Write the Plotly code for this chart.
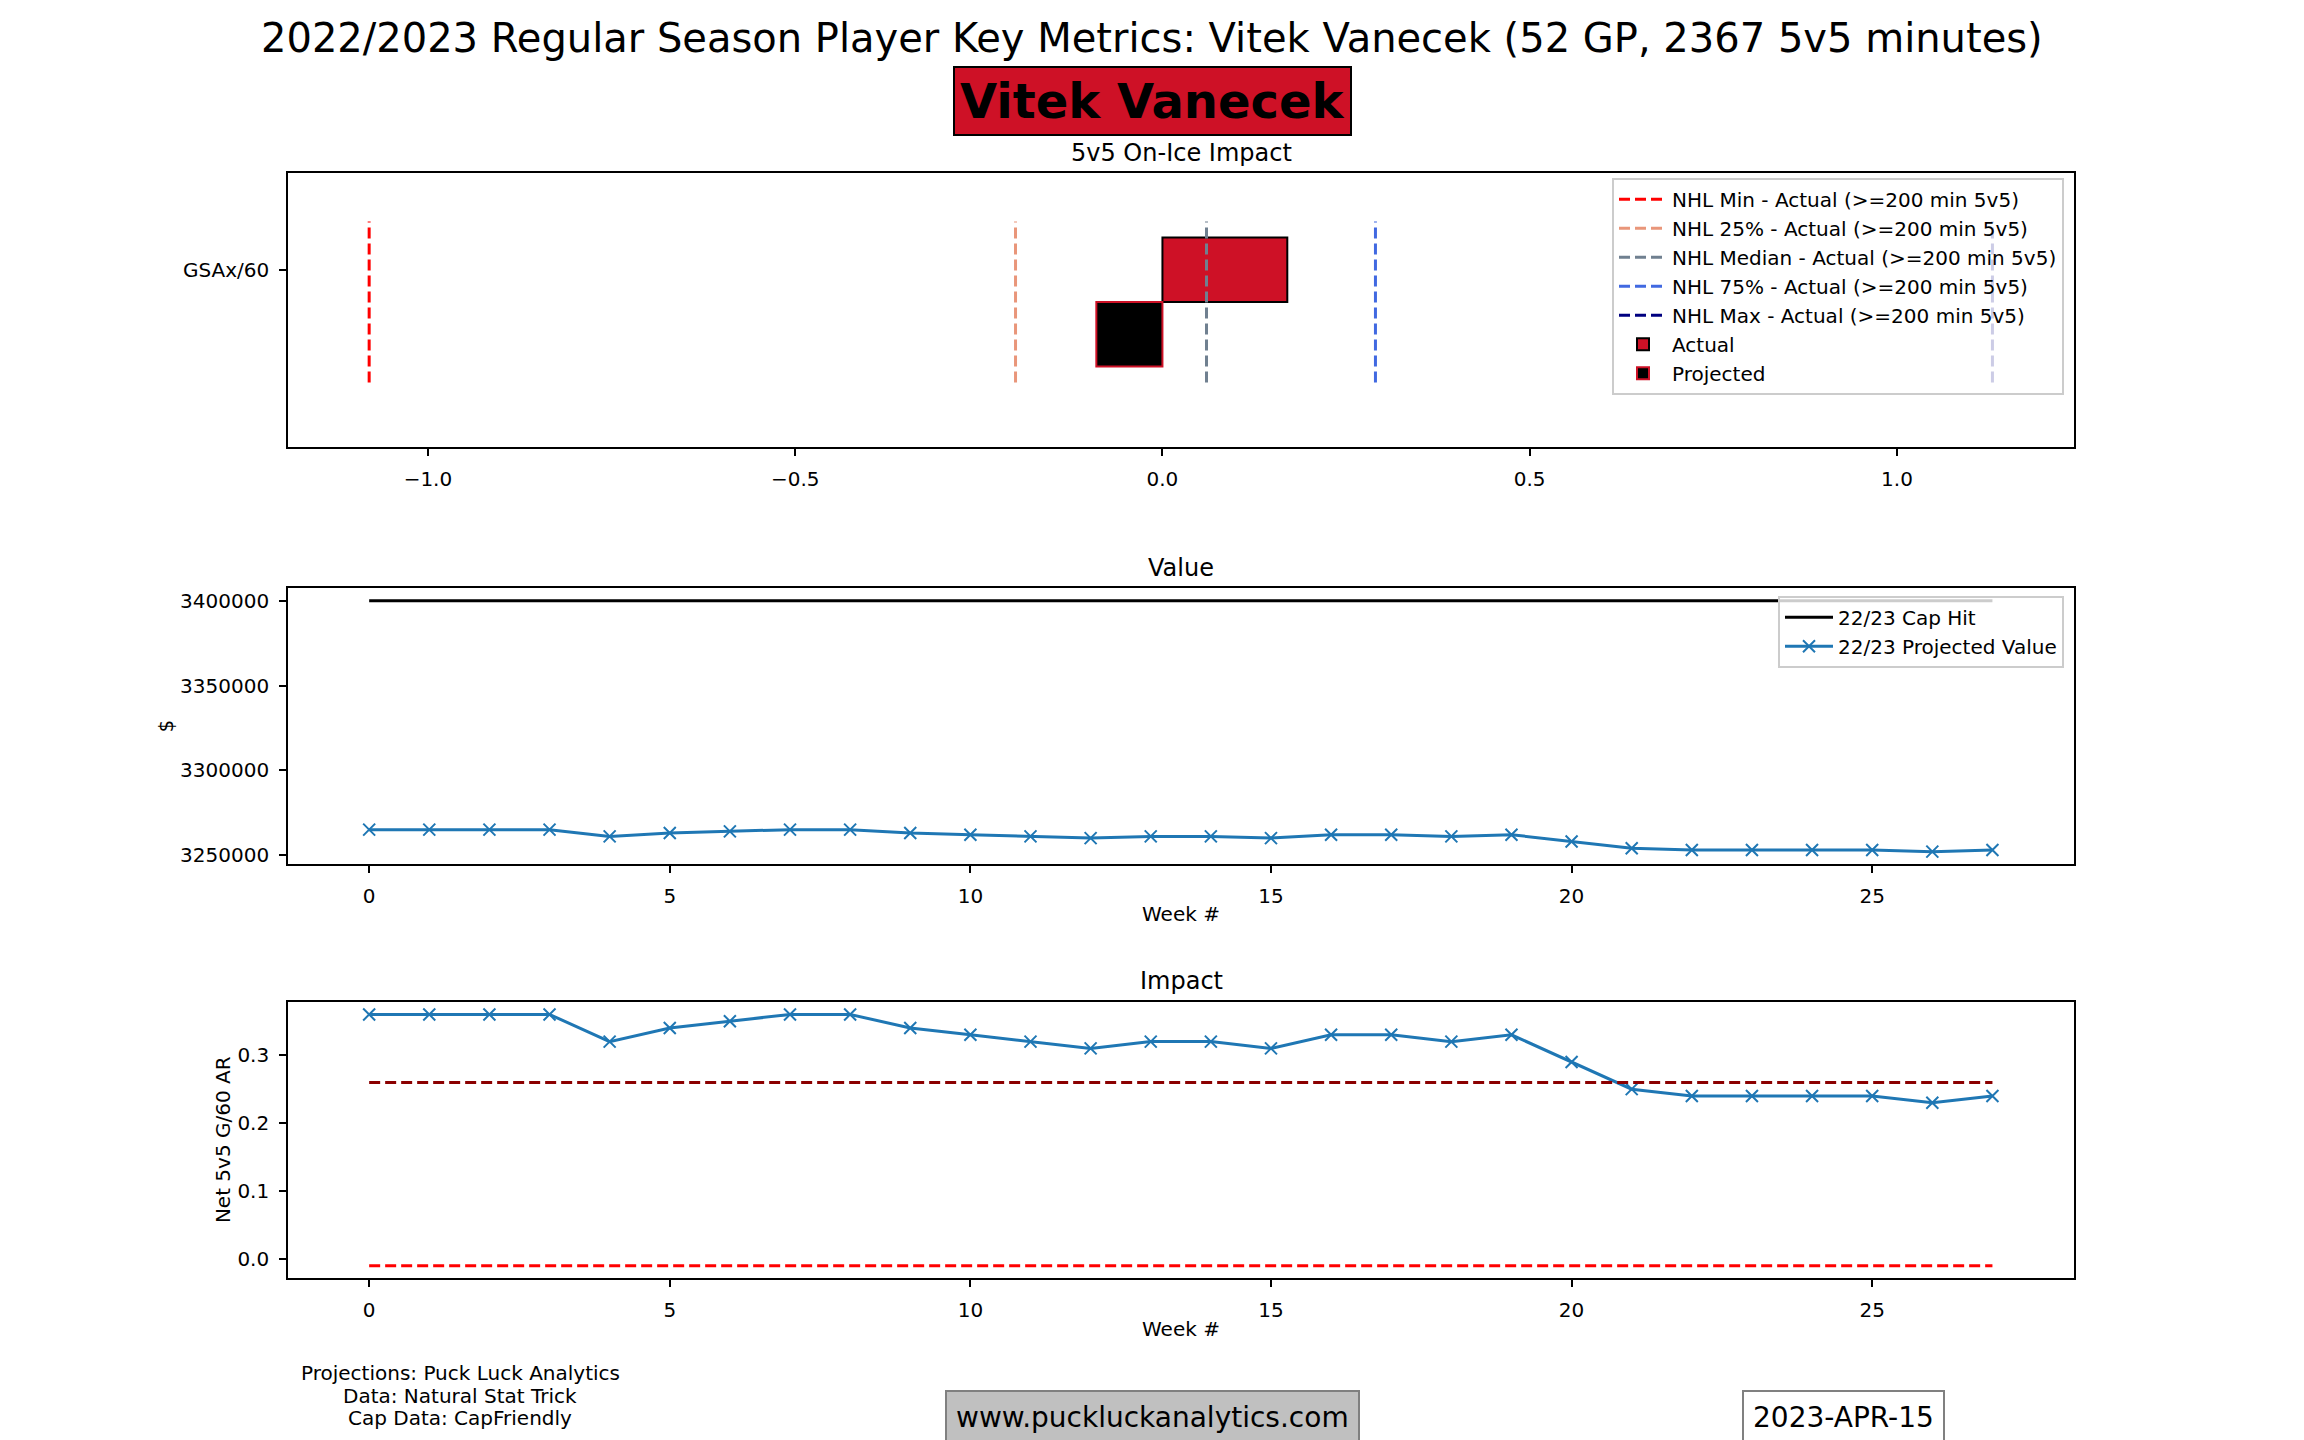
import plotly.graph_objects as go
from plotly.subplots import make_subplots

# ---- data ----
player = "Vitek Vanecek"
title = "2022/2023 Regular Season Player Key Metrics: Vitek Vanecek (52 GP, 2367 5v5 minutes)"
metric = "GSAx/60"
actual_gsax = 0.17
projected_gsax = -0.09

ref_names = ["NHL Min", "NHL 25%", "NHL Median", "NHL 75%", "NHL Max"]
ref_values = [-1.08, -0.20, 0.06, 0.29, 1.13]
ref_colors = ["red", "darksalmon", "slategray", "royalblue", "navy"]

weeks = list(range(28))
cap_hit = 3400000
proj_value = [3265000, 3265000, 3265000, 3265000, 3261000, 3263000, 3264000,
              3265000, 3265000, 3263000, 3262000, 3261000, 3260000, 3261000,
              3261000, 3260000, 3262000, 3262000, 3261000, 3262000, 3258000,
              3254000, 3253000, 3253000, 3253000, 3253000, 3252000, 3253000]
impact = [0.36, 0.36, 0.36, 0.36, 0.32, 0.34, 0.35, 0.36, 0.36, 0.34, 0.33,
          0.32, 0.31, 0.32, 0.32, 0.31, 0.33, 0.33, 0.32, 0.33, 0.29, 0.25,
          0.24, 0.24, 0.24, 0.24, 0.23, 0.24]
impact_median = 0.26
impact_repl = -0.01

footer_lines = ["Projections: Puck Luck Analytics", "Data: Natural Stat Trick",
                "Cap Data: CapFriendly"]
site = "www.puckluckanalytics.com"
date_str = "2023-APR-15"

RED = "#CE1126"
BLUE = "#1f77b4"
FONT = "DejaVu Sans"
W, H = 2304, 1440
DASH = "11px,5px"


def pad(lo, hi, frac=0.05):
    d = (hi - lo) * frac
    return [lo - d, hi + d]


fig = make_subplots(rows=3, cols=1)

# ---- panel 1: on-ice impact bars ----
fig.add_trace(go.Bar(
    y=[0], x=[actual_gsax], base=[0], width=0.4, orientation="h",
    name="Actual", marker=dict(color=RED, line=dict(color="black", width=2)),
    legendrank=6, legend="legend",
), row=1, col=1)
fig.add_trace(go.Bar(
    y=[-0.4], x=[projected_gsax], base=[0], width=0.4, orientation="h",
    name="Projected", marker=dict(color="black", line=dict(color=RED, width=2)),
    legendrank=7, legend="legend",
), row=1, col=1)
for i, (nm, v, c) in enumerate(zip(ref_names, ref_values, ref_colors)):
    fig.add_trace(go.Scatter(
        x=[v, v], y=[-0.7, 0.3], mode="lines",
        name=nm + " - Actual (>=200 min 5v5)",
        line=dict(color=c, width=3, dash=DASH),
        legendrank=i + 1, legend="legend",
    ), row=1, col=1)

# ---- panel 2: value ----
fig.add_trace(go.Scatter(
    x=[weeks[0], weeks[-1]], y=[cap_hit, cap_hit], mode="lines",
    name="22/23 Cap Hit", line=dict(color="black", width=3), legend="legend2",
), row=2, col=1)
fig.add_trace(go.Scatter(
    x=weeks, y=proj_value, mode="lines+markers", name="22/23 Projected Value",
    line=dict(color=BLUE, width=3),
    marker=dict(symbol="x-thin", size=12, line=dict(width=2, color=BLUE)),
    legend="legend2",
), row=2, col=1)

# ---- panel 3: impact ----
fig.add_trace(go.Scatter(
    x=weeks, y=impact, mode="lines+markers", showlegend=False,
    line=dict(color=BLUE, width=3),
    marker=dict(symbol="x-thin", size=12, line=dict(width=2, color=BLUE)),
), row=3, col=1)
fig.add_trace(go.Scatter(
    x=[weeks[0], weeks[-1]], y=[impact_median, impact_median], mode="lines",
    showlegend=False, line=dict(color="darkred", width=3, dash=DASH),
), row=3, col=1)
fig.add_trace(go.Scatter(
    x=[weeks[0], weeks[-1]], y=[impact_repl, impact_repl], mode="lines",
    showlegend=False, line=dict(color="red", width=3, dash=DASH),
), row=3, col=1)

# ---- axes ----
axis_style = dict(
    showline=True, mirror=True, linecolor="black", linewidth=1.6,
    ticks="outside", ticklen=7, tickwidth=1.6, tickcolor="black",
    showgrid=False, zeroline=False, ticklabelstandoff=6,
    tickfont=dict(family=FONT, size=20, color="black"),
)
fig.update_xaxes(**axis_style)
fig.update_yaxes(**axis_style)

xdom = [0.125, 0.9]
ydoms = [[0.689, 0.8795], [0.3986, 0.5906], [0.1104, 0.3028]]
for r in range(3):
    fig.update_xaxes(domain=xdom, row=r + 1, col=1)
    fig.update_yaxes(domain=ydoms[r], row=r + 1, col=1)

fig.update_xaxes(range=pad(min(ref_values), max(ref_values)), dtick=0.5,
                 tickformat=".1f", row=1, col=1)
fig.update_yaxes(range=[-1.1, 0.6], tickvals=[0], ticktext=[metric], row=1, col=1)

week_range = pad(weeks[0], weeks[-1])
fig.update_xaxes(range=week_range, dtick=5, tick0=0, row=2, col=1)
fig.update_yaxes(range=pad(min(proj_value + [cap_hit]), max(proj_value + [cap_hit])),
                 dtick=50000, tick0=0, tickformat="d", row=2, col=1)
fig.update_xaxes(range=week_range, dtick=5, tick0=0, row=3, col=1)
fig.update_yaxes(range=pad(min(impact + [impact_repl]), max(impact + [impact_repl])),
                 dtick=0.1, tick0=0, tickformat=".1f", row=3, col=1)


# ---- text ----
def txt(text, x, y, size, xanchor="center", yanchor="middle", **kw):
    fig.add_annotation(text=text, x=x, y=y, xref="paper", yref="paper",
                       xanchor=xanchor, yanchor=yanchor,
                       showarrow=False, font=dict(family=FONT, size=size,
                                                  color="black"),
                       **kw)


txt(title, 0.5, 1 - 38 / H, 40)
txt("<b>" + player + "</b>", 0.5, 1 - 101.5 / H, 48, bgcolor=RED,
    bordercolor="black", borderwidth=2, borderpad=5)
txt("5v5 On-Ice Impact", 0.5127, 1 - 153 / H, 24)
txt("Value", 0.5127, 1 - 569 / H, 24)
txt("Impact", 0.5127, 1 - 983 / H, 24)
txt("Week #", 0.5127, 1 - 916 / H, 20)
txt("Week #", 0.5127, 1 - 1331.5 / H, 20)
txt("$", 166 / W, 1 - 728 / H, 20, textangle=-90)
txt("Net 5v5 G/60 AR", 223 / W, 1 - 1142.5 / H, 20, textangle=-90)

for i, line in enumerate(footer_lines):
    txt(line, 460 / W, 1 - (1376 + 22.5 * i) / H, 20)
txt(site, 0.5, 1 - 1393 / H, 28, yanchor="top", bgcolor="silver",
    bordercolor="gray", borderwidth=2, borderpad=9)
txt(date_str, 0.8, 1 - 1393 / H, 28, yanchor="top", bgcolor="white",
    bordercolor="gray", borderwidth=2, borderpad=9)

legend_style = dict(
    bgcolor="rgba(255,255,255,0.8)", bordercolor="#cccccc", borderwidth=2,
    font=dict(family=FONT, size=20, color="black"), itemwidth=48,
    xanchor="right", yanchor="top", xref="paper", yref="paper",
)
fig.update_layout(
    width=W, height=H, autosize=False,
    margin=dict(l=0, r=0, t=0, b=0),
    paper_bgcolor="white", plot_bgcolor="white",
    font=dict(family=FONT, size=20, color="black"),
    barmode="overlay",
    legend=dict(x=2064 / W, y=1 - 178 / H, **legend_style),
    legend2=dict(x=2064 / W, y=1 - 597 / H, **legend_style),
)

fig.write_html("out.html", config={"displayModeBar": False},
               post_script="document.body.style.margin='0';")
